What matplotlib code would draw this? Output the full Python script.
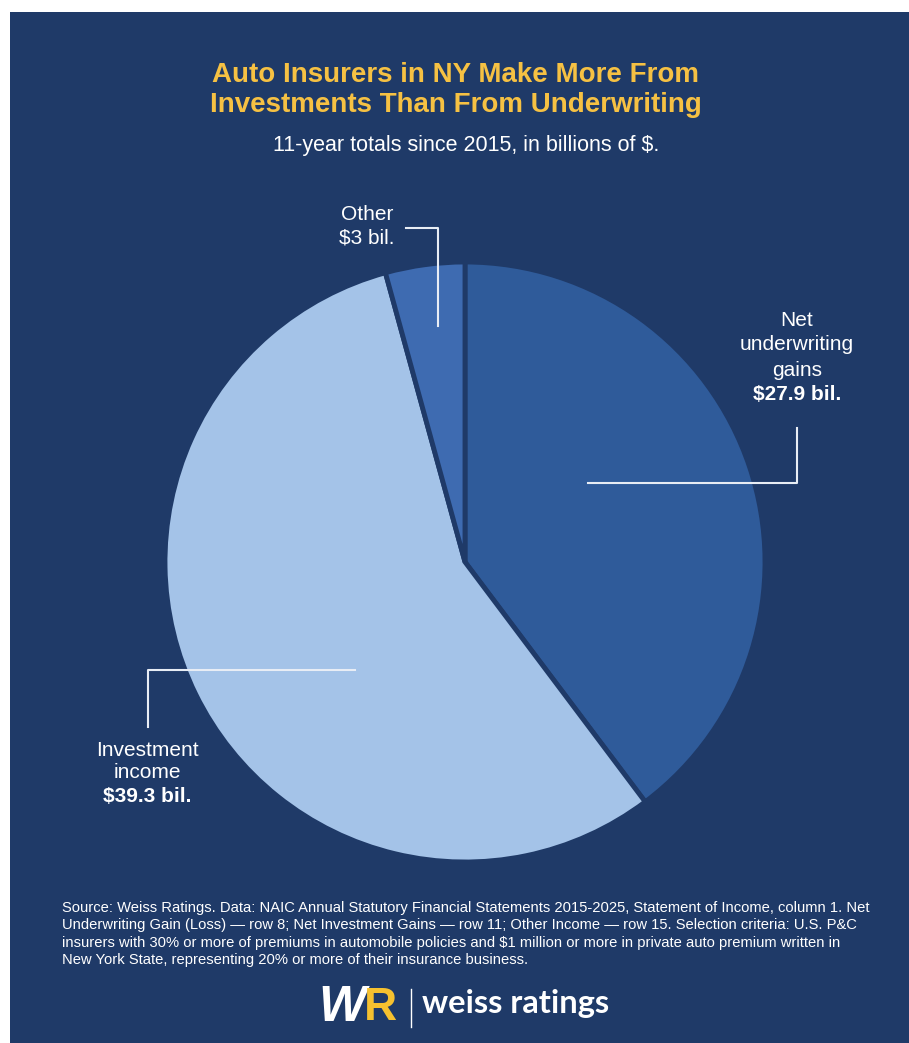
import matplotlib.pyplot as plt
from matplotlib.patches import Rectangle

# data
labels = ['Net underwriting gains', 'Investment income', 'Other']
values = [27.9, 39.3, 3.0]
colors = ['#2f5b9a', '#a4c3e8', '#3e6bb1']

title = 'Auto Insurers in NY Make More From\nInvestments Than From Underwriting'
subtitle = '11-year totals since 2015, in billions of $.'
source = ('Source: Weiss Ratings. Data: NAIC Annual Statutory Financial Statements 2015-2025, Statement of Income, column 1. Net\n'
          'Underwriting Gain (Loss) \u2014 row 8; Net Investment Gains \u2014 row 11; Other Income \u2014 row 15. Selection criteria: U.S. P&C\n'
          'insurers with 30% or more of premiums in automobile policies and $1 million or more in private auto premium written in\n'
          'New York State, representing 20% or more of their insurance business.')

BG = '#1f3a68'
W, H = 909, 1043

plt.rcParams['font.family'] = ['Liberation Sans', 'DejaVu Sans']

fig = plt.figure(figsize=(W / 100, H / 100), dpi=100, facecolor='white')
ax = fig.add_axes([0, 0, 1, 1])


def Y(py):
    # pixel row (from top) -> data y
    return H - py


ax.pie(values, colors=colors, startangle=90, counterclock=False,
       center=(465, Y(562)), radius=300,
       wedgeprops=dict(edgecolor=BG, linewidth=3.5))
ax.set_xlim(0, W)
ax.set_ylim(0, H)
ax.set_aspect('equal')
ax.axis('off')
ax.add_patch(Rectangle((10, 0), W - 10, H - 12, facecolor=BG, edgecolor='none', zorder=-10))

# titles
ax.text(456, Y(90), title, ha='center', va='center', color='#f6c143',
        fontsize=20, fontweight='bold', linespacing=1.25)
ax.text(466, Y(146), subtitle, ha='center', va='center', color='white', fontsize=15.5)

# leader lines
lc = dict(color='#e8edf5', lw=1.5)
ax.plot([406, 438, 438], [Y(228), Y(228), Y(326)], **lc)
ax.plot([797, 797, 588], [Y(428), Y(483), Y(483)], **lc)
ax.plot([355, 148, 148], [Y(670), Y(670), Y(727)], **lc)

# slice labels
lab = dict(ha='center', va='center', color='white', fontsize=15)
ax.text(367, Y(214), 'Other', **lab)
ax.text(367, Y(238), '$3 bil.', **lab)
for i, s in enumerate(['Net', 'underwriting', 'gains']):
    ax.text(797, Y(320 + 25 * i), s, **lab)
ax.text(797, Y(395), '$27.9 bil.', fontweight='bold', **lab)
ax.text(147, Y(750), 'Investment', **lab)
ax.text(147, Y(772), 'income', **lab)
ax.text(147, Y(796), '$39.3 bil.', fontweight='bold', **lab)

# source note
ax.text(62, Y(901), source, ha='left', va='top', color='white', fontsize=10.6, linespacing=1.31)

# logo
ax.text(366, Y(1008), 'W', ha='right', va='center', color='white', fontsize=36,
        fontweight='heavy', style='italic')
ax.text(364, Y(1008), 'R', ha='left', va='center', color='#f6c12f', fontsize=33,
        fontweight='heavy')
ax.plot([411, 411], [Y(989), Y(1027)], color='white', lw=1)
ax.text(422, Y(1004), 'weiss ratings', ha='left', va='center', color='white',
        fontsize=23.5, fontweight='bold', family='Lato')

fig.savefig('out.png', dpi=100, facecolor='white')
